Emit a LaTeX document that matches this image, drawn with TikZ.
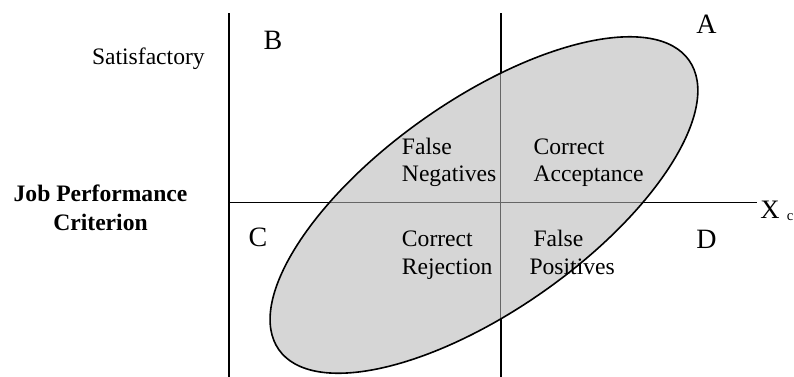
\documentclass[tikz,border=0pt]{standalone}
\usepackage{fontspec}
\setmainfont{Liberation Serif}
\begin{document}
\begin{tikzpicture}[x=0.75pt,y=0.75pt,
  body/.style={inner sep=0pt,anchor=base west,align=left,font=\fontsize{17.7}{20.6}\selectfont},
  letter/.style={inner sep=0pt,anchor=base west,font=\fontsize{21}{25}\selectfont},
  axisline/.style={line width=1.25pt},
  innerline/.style={line width=1.1pt,black!60}]
\useasboundingbox (0,0) rectangle (794,-376);
% axis coordinates
\coordinate (ytop) at (228.7,-13);
\coordinate (ybot) at (228.7,-380);
\coordinate (org) at (228.7,-202.7);
\coordinate (xend) at (756.7,-202.7);
\coordinate (ctop) at (500.7,-13);
\coordinate (cbot) at (500.7,-380);
\coordinate (ctr) at (484,-205);
% lines
\draw[axisline] (ytop) -- (ybot);
\draw[axisline,line width=1pt] (org) -- (xend);
\draw[axisline] (ctop) -- (cbot);
% ellipse fill
\fill[black!16,rotate around={35.2:(ctr)}] (ctr) ellipse [x radius=188.25pt, y radius=78.75pt];
\begin{scope}
  \clip[rotate around={35.2:(ctr)}] (ctr) ellipse [x radius=188.25pt, y radius=78.75pt];
  \draw[innerline] (org) -- (xend);
  \draw[innerline] (ctop) -- (cbot);
\end{scope}
\draw[line width=1.2pt,rotate around={35.2:(ctr)}] (ctr) ellipse [x radius=188.25pt, y radius=78.75pt];
% texts
\node[body,anchor=base east] (sat) at (205,-64.3) {Satisfactory};
\node[body,anchor=base,align=center,font=\fontsize{17.7}{21.2}\selectfont\bfseries] (jpc) at (100.5,-230) {Job Performance\\Criterion};
\node[letter] (B) at (263.3,-49.3) {B};
\node[letter] (C) at (248.3,-246.7) {C};
\node[letter] (A) at (696,-33.3) {A};
\node[letter] (D) at (696,-248.3) {D};
\node[letter,font=\fontsize{20}{24}\selectfont] (X) at (760,-218.3) {X};
\node[inner sep=0pt,anchor=base west,font=\fontsize{11}{13}\selectfont] (Xc) at (786.7,-220.7) {c};
\node[body] (fn) at (401.7,-181.7) {False\\Negatives};
\node[body] (ca) at (533.3,-181.7) {Correct\\Acceptance};
\node[body] (cr) at (401.7,-274) {Correct\\Rejection};
\node[body] (fp1) at (533.3,-246) {False};
\node[body] (fp2) at (529.3,-274) {Positives};
\end{tikzpicture}
\end{document}
